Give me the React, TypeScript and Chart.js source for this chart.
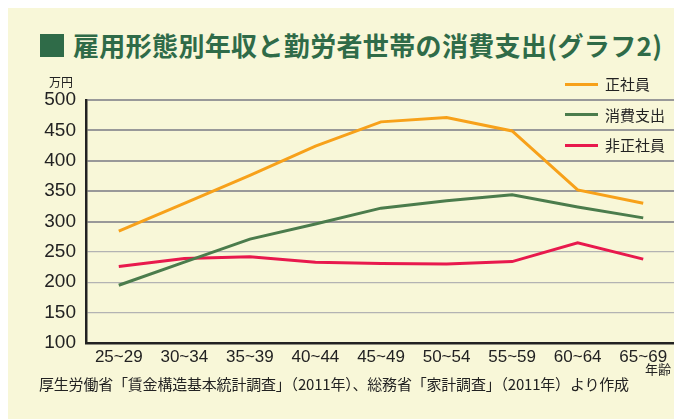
import React, { useEffect, useRef } from "react";
import { Chart, registerables } from "chart.js";

Chart.register(...registerables);

const categories = ["25~29", "30~34", "35~39", "40~44", "45~49", "50~54", "55~59", "60~64", "65~69"];
const seriesNames = ["正社員", "消費支出", "非正社員"];
const regularValues = [284, 330, 376, 424, 464, 471, 449, 352, 330];
const spendingValues = [195, 233, 271, 296, 322, 334, 344, 324, 306];
const nonRegularValues = [226, 239, 242, 233, 231, 230, 234, 265, 238];
const seriesColors = ["#f7a11a", "#4b7c4c", "#e8194d"];
const yMin = 100;
const yMax = 500;
const yStep = 50;

const BG = "#f8f7d8";
const TITLE_GREEN = "#2f6b48";
const JP = "'Noto Sans CJK JP', 'Noto Sans', sans-serif";
const NUM = "'Liberation Sans', Arial, sans-serif";

export default function App() {
  const canvasRef = useRef<HTMLCanvasElement | null>(null);

  useEffect(() => {
    document.documentElement.style.overflow = "hidden";
    document.body.style.overflow = "hidden";
    const canvas = canvasRef.current;
    if (!canvas) return;
    const values = [regularValues, spendingValues, nonRegularValues];
    const chart = new Chart(canvas, {
      type: "line",
      data: {
        labels: categories,
        datasets: seriesNames.map((name, i) => ({
          label: name,
          data: values[i],
          borderColor: seriesColors[i],
          backgroundColor: seriesColors[i],
          borderWidth: 3,
          pointRadius: 0,
          tension: 0,
          fill: false,
        })),
      },
      options: {
        responsive: false,
        animation: false,
        maintainAspectRatio: false,
        layout: { padding: { top: 92, left: 0, right: 0, bottom: 46 } },
        plugins: {
          legend: { display: false },
          tooltip: { enabled: false },
        },
        scales: {
          x: {
            offset: true,
            grid: { display: false, drawTicks: false },
            border: { display: true, color: "#222", width: 2.5 },
            ticks: {
              color: "#222",
              font: { family: NUM, size: 17 },
              padding: 4,
              maxRotation: 0,
              autoSkip: false,
            },
            afterFit: (scale: any) => {
              scale.height = 30;
            },
          },
          y: {
            min: yMin,
            max: yMax,
            ticks: {
              stepSize: yStep,
              color: "#222",
              font: { family: NUM, size: 19 },
              padding: 10,
            },
            grid: {
              drawTicks: false,
              color: (ctx: any) => (ctx.tick && ctx.tick.value >= 300 ? "#999999" : "#b3b3b3"),
              lineWidth: (ctx: any) => (ctx.tick && ctx.tick.value >= 300 ? 2 : 1.2),
            },
            border: { display: true, color: "#222", width: 2.5 },
            afterFit: (scale: any) => {
              scale.width = 78;
            },
          },
        },
      },
    });
    return () => chart.destroy();
  }, []);

  return (
    <div
      style={{
        position: "fixed",
        left: 8,
        top: 8,
        right: 0,
        bottom: 0,
        background: BG,
        overflow: "hidden",
        fontFamily: JP,
      }}
    >
      <div
        style={{
          position: "absolute",
          left: 32,
          top: 26,
          width: 24,
          height: 23,
          background: TITLE_GREEN,
        }}
      />
      <div
        style={{
          position: "absolute",
          left: 65,
          top: 19,
          fontSize: 26,
          lineHeight: "36px",
          fontWeight: 700,
          letterSpacing: 0.35,
          color: TITLE_GREEN,
          whiteSpace: "nowrap",
        }}
      >
        雇用形態別年収と勤労者世帯の消費支出(グラフ2)
      </div>
      <canvas
        ref={canvasRef}
        width={668}
        height={411}
        style={{ position: "absolute", left: 0, top: 0, width: 668, height: 411 }}
      />
      <div
        style={{
          position: "absolute",
          left: 41,
          top: 67,
          fontSize: 12,
          lineHeight: "14px",
          color: "#222",
        }}
      >
        万円
      </div>
      {seriesNames.map((name, i) => (
        <div
          key={name}
          style={{
            position: "absolute",
            left: 557,
            top: 66 + i * 30.5,
            height: 20,
            display: "flex",
            alignItems: "center",
            whiteSpace: "nowrap",
          }}
        >
          <div style={{ width: 33, height: 3, background: seriesColors[i] }} />
          <div style={{ marginLeft: 7, fontSize: 15, lineHeight: "20px", color: "#222" }}>{name}</div>
        </div>
      ))}
      <div
        style={{
          position: "absolute",
          left: 637,
          top: 353,
          fontSize: 13,
          lineHeight: "16px",
          color: "#222",
          whiteSpace: "nowrap",
        }}
      >
        年齢
      </div>
      <div
        style={{
          position: "absolute",
          left: 31,
          top: 366,
          fontSize: 15,
          lineHeight: "20px",
          letterSpacing: -0.2,
          color: "#222",
          whiteSpace: "nowrap",
        }}
      >
        厚生労働省「賃金構造基本統計調査」（2011年）、総務省「家計調査」（2011年）より作成
      </div>
    </div>
  );
}
